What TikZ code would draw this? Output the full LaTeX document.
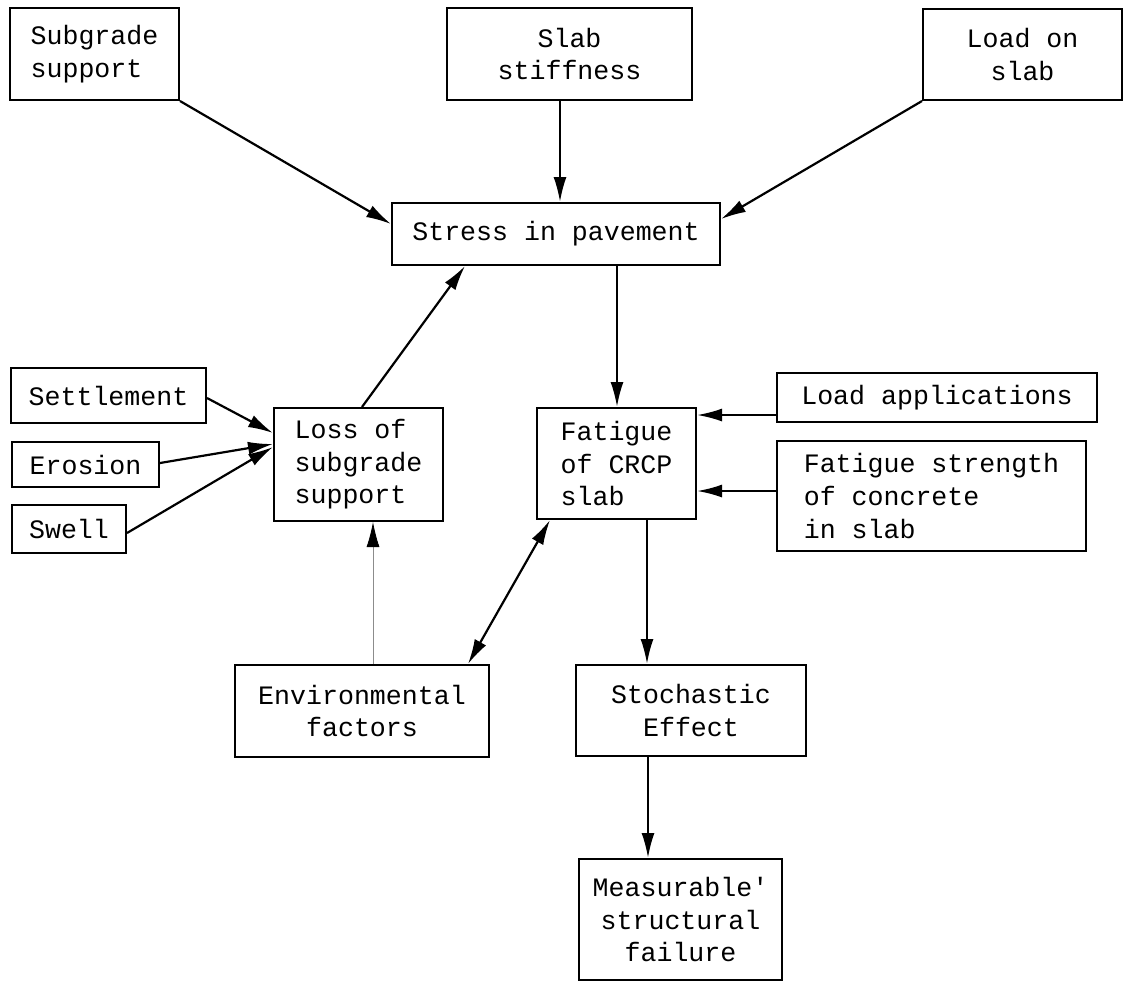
\documentclass[tikz,border=0pt]{standalone}
\usepackage{fontspec}
\setmainfont{Liberation Mono}[Ligatures=TeXOff]
\usetikzlibrary{arrows.meta}
\tikzset{
  box/.style={draw=black, line width=1pt, inner sep=0pt, font=\fontsize{13.3}{16.3}\selectfont, align=center},
  lbox/.style={box, align=left},
  arr/.style={line width=1.1pt, -{Latex[length=12.5pt,width=6.5pt]}},
  darr/.style={line width=1.1pt, {Latex[length=12.5pt,width=6.5pt]}-{Latex[length=12.5pt,width=6.5pt]}},
  farr/.style={line width=0.4pt, draw=black!45, -{Latex[length=12.5pt,width=6.5pt,color=black]}}
}
\begin{document}
\begin{tikzpicture}[x=0.5pt,y=-0.5pt]
\useasboundingbox (0,0) rectangle (1125,982);
\node[lbox, minimum width=84.5pt, minimum height=46pt] (sub) at (94.5,54) {Subgrade\\support};
\node[box, minimum width=122.5pt, minimum height=46pt] (slab) at (569.5,54) {Slab\\stiffness};
\node[box, minimum width=99.5pt, minimum height=45.5pt] (load) at (1022.5,54.5) {Load on\\slab};
\node[box, minimum width=164pt, minimum height=31pt] (stress) at (556,234) {Stress in pavement};
\node[box, minimum width=97.5pt, minimum height=27.5pt] (settle) at (108.5,395.5) {Settlement};
\node[box, minimum width=73.5pt, minimum height=22.5pt] (erosion) at (85.5,464.5) {Erosion};
\node[box, minimum width=57pt, minimum height=24pt] (swell) at (69,529) {Swell};
\node[lbox, minimum width=84.5pt, minimum height=56.5pt] (loss) at (358.5,464.5) {Loss of\\subgrade\\support};
\node[lbox, minimum width=79.5pt, minimum height=55.5pt] (fatigue) at (616.5,463.5) {Fatigue\\of CRCP\\slab};
\node[box, minimum width=160pt, minimum height=24.5pt] (loadapp) at (937,397.5) {Load applications};
\node[lbox, minimum width=154.5pt, minimum height=55pt] (fstr) at (931.5,496) {Fatigue strength\\of concrete\\in slab};
\node[box, minimum width=127pt, minimum height=46pt] (env) at (362,711) {Environmental\\factors};
\node[box, minimum width=115pt, minimum height=45.5pt] (stoch) at (691,710.5) {Stochastic\\Effect};
\node[box, minimum width=101.5pt, minimum height=60.5pt] (meas) at (680.5,919.5) {Measurable'\\structural\\failure};

\draw[arr] (sub.south east) -- ([shift={(0,22)}]stress.north west);
\draw[arr] ([shift={(-9.5,0)}]slab.south) -- ([shift={(4,0)}]stress.north);
\draw[arr] (load.south west) -- ([shift={(0,17)}]stress.north east);
\draw[arr] ([shift={(61,0)}]stress.south) -- ([shift={(0.5,0)}]fatigue.north);
\draw[arr] ([shift={(3.5,0)}]loss.north) -- ([shift={(-91,0)}]stress.south);
\draw[arr] ([shift={(0,2.5)}]settle.east) -- ([shift={(0,-31.5)}]loss.west);
\draw[arr] ([shift={(0,-1.5)}]erosion.east) -- ([shift={(0,-20.5)}]loss.west);
\draw[arr] ([shift={(0,4)}]swell.east) -- ([shift={(0,-17.5)}]loss.west);
\draw[arr] ([shift={(0,17.5)}]loadapp.west) -- ([shift={(0,-48.5)}]fatigue.east);
\draw[arr] ([shift={(0,-5)}]fstr.west) -- ([shift={(0,27.5)}]fatigue.east);
\draw[farr] ([shift={(11,0)}]env.north) -- ([shift={(14.5,0)}]loss.south);
\draw[darr] ([shift={(106,0)}]env.north) -- ([shift={(-66.5,0)}]fatigue.south);
\draw[arr] ([shift={(30.5,0)}]fatigue.south) -- ([shift={(-44,0)}]stoch.north);
\draw[arr] ([shift={(-43,0)}]stoch.south) -- ([shift={(-32.5,0)}]meas.north);
\end{tikzpicture}
\end{document}
